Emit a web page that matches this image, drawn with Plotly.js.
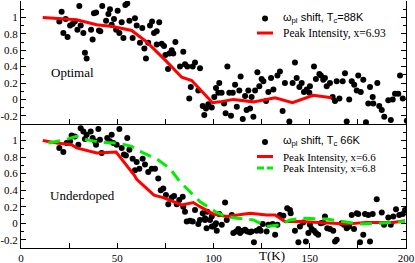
<!DOCTYPE html>
<html><head><meta charset="utf-8">
<script src="https://cdn.plot.ly/plotly-3.0.1.min.js"></script>
<style>html,body{margin:0;padding:0;background:#fff;}#c{width:415px;height:263px;}</style>
</head><body><div id="c"></div>
<script>
// ---- Optimal (top) : omega_pl shift data
const topT = [21.1,19.9,23.2,22,24.2,25.5,26.8,28,30.3,29.3,31,32.4,33.2,34.1,36.4,37.2,37.9,39,40.5,41.2,42.2,44.2,45.4,46.2,47.1,48.3,49.4,50.2,51.1,52.3,53.2,54.2,55.2,56.3,58,59.2,60.1,61.8,63,64.1,64.9,66.1,67,68.1,69.1,70.5,71.8,70.5,73.1,74.3,75,76.4,77.1,78.3,79.1,80.2,82.6,84.3,85.2,86.4,88.2,87.4,89.2,90.4,92.1,93,94.4,95.2,96.1,97.3,99.1,100.4,101.3,102.5,103,
  104.2,105.5,106.3,107.2,108.2,109.1,110,111.2,112.1,113.4,114.1,115.2,116.4,117.2,118.1,119,119.8,120.7,121.6,122.8,123.8,125,125.9,127.3,128.5,129.9,131.1,133.2,134.5,135.9,137.1,139.4,141.1,142.3,143.2,144.6,145.8,147,148.4,149.8,150.1,152.2,153.2,155,155.8,157,157.9,158.8,160.5,161.9,163.1,164,165.4,167.1,168.3,169.2,170.5,171.8,173.1,174.4,175.2,176.5,177.8,179.2,180.4,181.3,182.7,183,185.1,186.1,187.4,188.7,190.8,192.1,193.1,194.3,196,196.9,198.3,200.4];
const topW = [1.07,0.95,0.98,0.81,0.76,0.90,0.92,0.95,1.14,0.85,0.90,0.81,0.57,0.50,0.85,0.73,1.05,1.06,0.84,0.83,1.14,0.96,1.04,1.10,0.91,0.98,0.85,1.08,0.81,0.94,0.75,1.15,1.17,0.96,0.75,0.99,0.90,0.69,0.87,0.62,0.50,0.69,0.90,0.95,0.81,0.83,0.94,0.67,0.68,0.65,0.54,0.37,0.56,0.60,0.56,0.70,0.40,0.58,0.43,0.40,0.15,0.01,0.40,0.45,0.11,0.38,-0.08,-0.19,-0.11,-0.06,-0.10,0.03,0.14,0.08,0.20,
  0.08,-0.05,-0.17,0.40,0.08,-0.20,0.08,0.18,-0.09,0.11,0.28,-0.24,0.04,-0.13,0.11,-0.11,0.03,-0.21,0.11,0.33,0.16,0.25,0.22,-0.02,0.09,0.26,0.12,0.29,0.34,-0.14,0.20,-0.27,0.20,0.45,0.26,0.15,0.20,0.09,0.12,0.08,0.16,0.40,0.25,0.31,0.29,0.24,0.26,0.16,0.20,0.03,-0.02,0.22,0.01,0.22,0.32,-0.27,0.00,0.22,0.18,0.11,0.29,0.09,0.24,-0.28,-0.05,0.15,0.03,-0.05,0.20,-0.08,-0.13,-0.21,-0.01,-0.25,0.00,0.07,0.07,0.29,0.01,-0.26];
// ---- Optimal : peak intensity x=6.93
const topLineT = [11.3,28.9,39.3,47.6,57.5,65.3,75.7,83.5,88.7,99.5,103.4,110.3,120.7,132,141,151.8,161.4];
const topLineP = [1.0,0.97,0.91,0.89,0.84,0.70,0.46,0.27,0.23,-0.04,-0.03,0.0,-0.03,0.02,-0.04,0.05,0.02];

// ---- Underdoped (bottom) : omega_pl shift data
const botT = [19.9,22,23.7,25.5,26.3,28,29.8,31,32.4,33.2,34.1,36.2,37.2,38.4,39,40.2,41,41.9,44.8,46.2,47.1,48,49.7,51.1,52.3,53.5,54.5,55.2,56.3,58,59.2,60.1,61.5,63.2,64.4,66.1,67.9,69.6,71.3,72.6,73.9,75.3,76.5,78.3,79.5,80.9,82.2,84,84.3,85.2,86.1,87.8,89.2,90.4,92.1,93,94.4,95.6,96.4,98.2,99.1,100.8,101.7,
  95.6,96.8,99.1,99.9,101.3,103,104.3,106,106.9,109.5,110.3,111.7,112.9,113.8,115.2,116.4,117.6,119,119.8,121,122.4,123.8,124.5,125.6,127.6,128.5,130.7,132,133.2,134.5,136.3,138.3,139.7,140.1,142.3,144.1,144.9,146.6,148,149.3,150.1,151,152.2,153.2,154.4,155.7,157,157.9,159.1,160.5,162.2,163.1,164,166.6,167.8,169.2,170.5,171.8,173,174.4,175.2,176.1,177.8,178.7,180.4,181.3,182.7,184.8,187.4,188.6,190.8,192.1,193.4,194.8,196.5,198.3,199.5];
const botW = [0.91,0.86,0.97,0.99,1.06,1.05,0.95,1.15,1.11,1.02,1.07,1.11,1.03,0.99,0.95,1.14,1.01,0.85,1.03,0.99,1.07,0.97,0.95,1.14,0.91,0.83,0.82,1.03,0.89,0.78,0.64,0.74,0.66,0.78,0.71,0.62,0.66,0.66,0.54,0.40,0.42,0.34,0.23,0.31,0.33,0.23,0.28,0.32,0.20,0.14,0.02,0.03,0.02,0.16,-0.01,0.04,0.12,0.06,-0.06,0.04,-0.04,-0.02,-0.09,
  0.04,0.14,0.08,-0.04,0.00,0.11,-0.02,0.25,0.04,0.10,-0.12,-0.10,-0.07,-0.12,-0.09,-0.08,-0.10,-0.11,-0.10,-0.23,-0.09,-0.07,-0.09,-0.01,-0.10,-0.02,-0.01,-0.14,-0.02,0.10,0.09,0.18,0.16,0.12,-0.09,-0.23,-0.04,0.01,-0.22,-0.12,-0.02,-0.07,-0.09,-0.12,-0.14,0.00,0.01,0.08,-0.06,-0.07,-0.09,-0.22,-0.20,0.00,-0.02,-0.06,-0.04,0.10,-0.07,0.12,0.11,-0.23,-0.14,0.11,0.10,-0.22,0.11,0.29,0.13,-0.02,0.07,-0.02,0.08,0.17,0.10,0.11,0.16];
// ---- Underdoped : peak intensity x=6.6
const redT = [11.3,18.5,26.3,28.9,39.3,49.4,58.9,60.1,69.1,73.9,83.5,89.5,93,99.9,106.9,110.3,119,127.6,132,137.1,145,169.2,179.6,193.4,199.5];
const redP = [1.0,0.97,0.95,0.91,0.85,0.86,0.58,0.53,0.34,0.31,0.22,0.25,0.20,0.11,0.08,0.09,0.12,0.10,0.10,0.02,0.02,-0.01,0.01,0.01,0.03];
// ---- Underdoped : peak intensity x=6.8
const grnT = [14.2,22.9,28.9,34.1,41,49.7,57.5,63.5,70.5,77.4,82.6,87.8,93,98.2,101.7,106.9,112.1,120.7,127.6,134.5,139.7,146.6,158.8,167.4,176.1,186.5,199.5];
const grnP = [0.97,1.01,1.05,1.01,0.98,0.97,0.93,0.85,0.78,0.66,0.50,0.38,0.26,0.18,0.13,0.08,0.06,0.04,-0.04,-0.02,0.04,0.06,0.05,0.02,-0.01,0.00,0.02];

// ---- text labels
const panelLabels = ['Optimal', 'Underdoped'];
const legendTop = ['ω<sub>pl</sub> shift, T<sub>c</sub>=88K', 'Peak Intensity, x=6.93'];
const legendBot = ['ω<sub>pl</sub> shift, T<sub>c</sub> 66K', 'Peak Intensity, x=6.6', 'Peak Intensity, x=6.8'];
const xTitle = 'T(K)';

const RED = '#ff0000', GREEN = '#00ee00', DASH = '12px,7px';
const serif = "'Liberation Serif','Times New Roman',serif";
const sansF = "'Liberation Sans',Arial,sans-serif";

const traces = [
  {x: topT, y: topW, xaxis:'x2', yaxis:'y2', mode:'markers', type:'scatter',
   marker:{color:'#000', size:6}, name:'ω_pl shift, Tc=88K'},
  {x: topLineT, y: topLineP, xaxis:'x2', yaxis:'y2', mode:'lines', type:'scatter',
   line:{color:RED, width:3}, name:'Peak Intensity, x=6.93'},
  {x: botT, y: botW, xaxis:'x', yaxis:'y', mode:'markers', type:'scatter',
   marker:{color:'#000', size:6}, name:'ω_pl shift, Tc 66K'},
  {x: redT, y: redP, xaxis:'x', yaxis:'y', mode:'lines', type:'scatter',
   line:{color:RED, width:3}, name:'Peak Intensity, x=6.6'},
  {x: grnT, y: grnP, xaxis:'x', yaxis:'y', mode:'lines', type:'scatter',
   line:{color:GREEN, width:3, dash:DASH}, name:'Peak Intensity, x=6.8'}
];

const yax = (dom) => ({domain:dom, range:[-0.3,1.2], ticks:'inside', ticklen:5,
  tickcolor:'#000', showline:true, linecolor:'#000', linewidth:1, mirror:'ticks', showgrid:false, zeroline:false,
  tickfont:{family:serif, size:11, color:'#000'},
  tickvals:[-0.2,0,0.2,0.4,0.6,0.8,1], ticktext:['-0.2','0','0.2','0.4','0.6','0.8','1'],
  minor:{dtick:0.1, tick0:0, ticks:'inside', ticklen:3, tickcolor:'#000', showgrid:false}});

// legend geometry (paper coordinates of the plot area)
const LX_SYM = 0.6338, LX0 = 0.613, LX1 = 0.6545, LX_TXT = 0.6753;
const rowsTop = [0.929, 0.8704], rowsBot = [0.429, 0.3704, 0.3239];

const shapes = [
  {type:'circle', xref:'paper', yref:'paper', xsizemode:'pixel', ysizemode:'pixel',
   xanchor:LX_SYM, yanchor:rowsTop[0], x0:-3, x1:3, y0:-3, y1:3, fillcolor:'#000', line:{width:0}},
  {type:'line', xref:'paper', yref:'paper', x0:LX0, x1:LX1, y0:rowsTop[1], y1:rowsTop[1], line:{color:RED, width:3}},
  {type:'circle', xref:'paper', yref:'paper', xsizemode:'pixel', ysizemode:'pixel',
   xanchor:LX_SYM, yanchor:rowsBot[0], x0:-3, x1:3, y0:-3, y1:3, fillcolor:'#000', line:{width:0}},
  {type:'line', xref:'paper', yref:'paper', x0:LX0, x1:LX1, y0:rowsBot[1], y1:rowsBot[1], line:{color:RED, width:3}},
  {type:'line', xref:'paper', yref:'paper', x0:LX0, x1:LX1, y0:rowsBot[2], y1:rowsBot[2], line:{color:GREEN, width:3, dash:'7px,3px'}}
];

const legAnn = (txt, y, fam, sz, dy) => ({xref:'paper', yref:'paper', x:LX_TXT, y:y, xanchor:'left', yanchor:'middle',
  yshift:dy||0, text:txt, showarrow:false, font:{family:fam, size:sz, color:'#000'}});

const layout = {
  width:415, height:263, margin:{l:21, r:9, t:1, b:15},
  paper_bgcolor:'#fff', plot_bgcolor:'#fff', showlegend:false,
  font:{family:serif, size:11, color:'#000'},
  xaxis:{domain:[0,1], anchor:'y', range:[0,200], dtick:50, ticks:'inside', ticklen:5, tickcolor:'#000',
    showline:true, linecolor:'#000', linewidth:1, mirror:false, showgrid:false, zeroline:false,
    tickfont:{family:serif, size:11, color:'#000'},
    minor:{dtick:25, ticks:'inside', ticklen:5, tickcolor:'#000', showgrid:false}},
  xaxis2:{domain:[0,1], anchor:'y2', range:[0,200], dtick:50, ticks:'inside', ticklen:5, tickcolor:'#000',
    showline:true, linecolor:'#000', linewidth:1, mirror:false, showgrid:false, zeroline:false, showticklabels:false,
    minor:{dtick:25, ticks:'inside', ticklen:5, tickcolor:'#000', showgrid:false}},
  yaxis: yax([0,0.502]),
  yaxis2: Object.assign(yax([0.502,1]), {anchor:'x2'}),
  shapes: shapes,
  annotations:[
    {xref:'x2', yref:'y2', x:26.5, y:0.33, text:panelLabels[0], showarrow:false, font:{family:serif, size:13, color:'#000'}},
    {xref:'x', yref:'y', x:32, y:0.34, text:panelLabels[1], showarrow:false, font:{family:serif, size:13, color:'#000'}},
    {xref:'paper', yref:'paper', x:0.652, y:-0.032, text:xTitle, showarrow:false, yanchor:'middle',
     font:{family:serif, size:13, color:'#000'}},
    legAnn(legendTop[0], rowsTop[0], sansF, 11, 1),
    legAnn(legendTop[1], rowsTop[1], serif, 11.5),
    legAnn(legendBot[0], rowsBot[0], sansF, 11, 1),
    legAnn(legendBot[1], rowsBot[1], serif, 11),
    legAnn(legendBot[2], rowsBot[2], serif, 11)
  ]
};
Plotly.newPlot('c', traces, layout, {staticPlot:true, displayModeBar:false});
</script></body></html>
